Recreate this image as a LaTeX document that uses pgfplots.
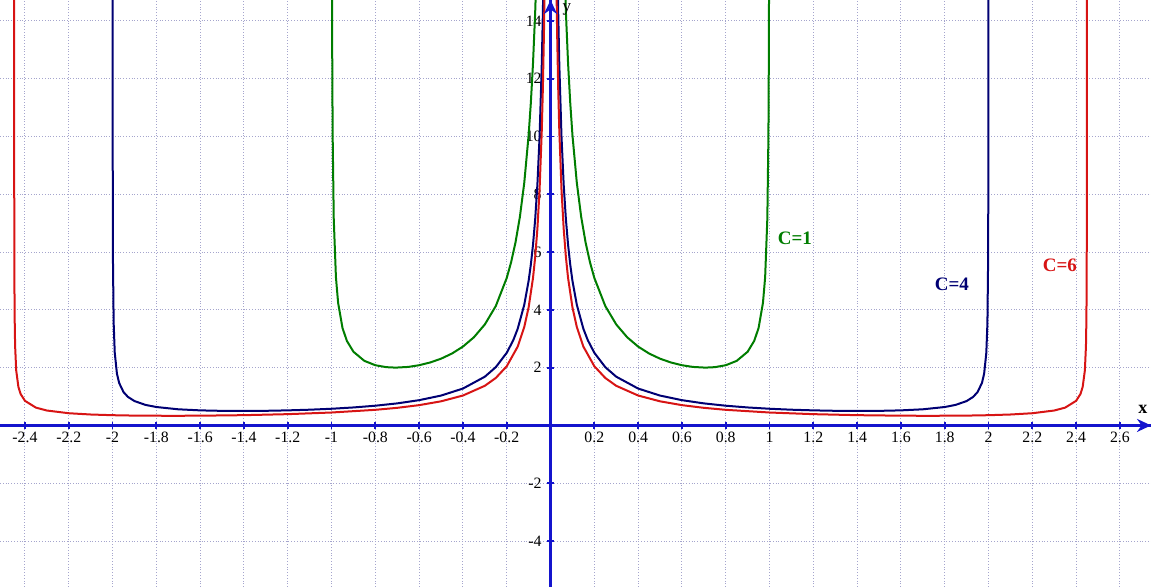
\documentclass[border=0pt]{standalone}
\usepackage{fontspec}
\setmainfont{Liberation Serif}
\usepackage{pgfplots}
\pgfplotsset{compat=1.18}
\usetikzlibrary{arrows.meta}
\definecolor{cgreen}{RGB}{0,125,0}
\definecolor{cnavy}{RGB}{0,0,115}
\definecolor{cred}{RGB}{215,20,20}
\definecolor{axcol}{RGB}{20,20,205}
\definecolor{gridcol}{RGB}{165,165,205}
\begin{document}
\begin{tikzpicture}
\begin{axis}[
  scale only axis, width=575.5pt, height=293.5pt,
  xmin=-2.514, xmax=2.742, ymin=-5.59, ymax=14.72,
  axis lines=middle,
  axis line style={axcol, line width=1.5pt, -},
  xtick={-2.4,-2.2,-2,-1.8,-1.6,-1.4,-1.2,-1,-0.8,-0.6,-0.4,-0.2,0.2,0.4,0.6,0.8,1,1.2,1.4,1.6,1.8,2,2.2,2.4,2.6},
  xticklabels={-2.4,-2.2,-2,-1.8,-1.6,-1.4,-1.2,-1,-0.8,-0.6,-0.4,-0.2,0.2,0.4,0.6,0.8,1,1.2,1.4,1.6,1.8,2,2.2,2.4,2.6},
  ytick={-4,-2,2,4,6,8,10,12,14},
  yticklabels={-4,-2,2,4,6,8,10,12,14},
  tick align=center, major tick length=3.5pt,
  tick style={axcol, line width=0.9pt},
  xticklabel style={font=\fontsize{7.9}{9}\selectfont, anchor=north, inner sep=1.3pt},
  yticklabel style={font=\fontsize{7.9}{9}\selectfont, anchor=east, inner sep=2.5pt},
  grid=major,
  grid style={densely dotted, gridcol, line width=0.5pt},
  clip=true,
]
\coordinate (BL) at (rel axis cs:0,0);
\coordinate (TR) at (rel axis cs:1,1);
% C = 1
\addplot[cgreen, line width=1pt] coordinates {
(-0.998,15.851) (-0.997,12.958) (-0.995,10.063) (-0.99,7.160) (-0.98,5.128) (-0.97,4.241) (-0.95,3.371) (-0.93,2.925) (-0.90,2.549) (-0.85,2.233) (-0.80,2.083) (-0.75,2.016) (-0.7071,2.000) (-0.65,2.024) (-0.60,2.083) (-0.55,2.177) (-0.50,2.309) (-0.45,2.488) (-0.40,2.728) (-0.35,3.050) (-0.30,3.494) (-0.25,4.131) (-0.20,5.103) (-0.18,5.648) (-0.16,6.332) (-0.14,7.214) (-0.12,8.394) (-0.10,10.050) (-0.09,11.156) (-0.08,12.540) (-0.07,14.321) (-0.06,16.697)
};
\addplot[cgreen, line width=1pt] coordinates {
(0.06,16.697) (0.07,14.321) (0.08,12.540) (0.09,11.156) (0.10,10.050) (0.12,8.394) (0.14,7.214) (0.16,6.332) (0.18,5.648) (0.20,5.103) (0.25,4.131) (0.30,3.494) (0.35,3.050) (0.40,2.728) (0.45,2.488) (0.50,2.309) (0.55,2.177) (0.60,2.083) (0.65,2.024) (0.7071,2.000) (0.75,2.016) (0.80,2.083) (0.85,2.233) (0.90,2.549) (0.93,2.925) (0.95,3.371) (0.97,4.241) (0.98,5.128) (0.99,7.160) (0.995,10.063) (0.997,12.958) (0.998,15.851)
};
% C = 4
\addplot[cnavy, line width=1pt] coordinates {
(-1.9998,17.680) (-1.9997,14.437) (-1.9995,11.184) (-1.999,7.911) (-1.998,5.597) (-1.995,3.547) (-1.99,2.516) (-1.98,1.790) (-1.97,1.471) (-1.95,1.154) (-1.93,0.988) (-1.90,0.843) (-1.85,0.711) (-1.80,0.637) (-1.70,0.558) (-1.60,0.521) (-1.50,0.504) (-1.414,0.500) (-1.30,0.506) (-1.20,0.521) (-1.10,0.544) (-1.00,0.577) (-0.90,0.622) (-0.80,0.682) (-0.70,0.763) (-0.60,0.874) (-0.50,1.033) (-0.40,1.276) (-0.30,1.686) (-0.25,2.016) (-0.20,2.513) (-0.17,2.952) (-0.15,3.343) (-0.12,4.174) (-0.10,5.006) (-0.09,5.561) (-0.08,6.255) (-0.07,7.147) (-0.06,8.337) (-0.05,10.003) (-0.04,12.503) (-0.035,14.288) (-0.03,16.668)
};
\addplot[cnavy, line width=1pt] coordinates {
(0.03,16.668) (0.035,14.288) (0.04,12.503) (0.05,10.003) (0.06,8.337) (0.07,7.147) (0.08,6.255) (0.09,5.561) (0.10,5.006) (0.12,4.174) (0.15,3.343) (0.17,2.952) (0.20,2.513) (0.25,2.016) (0.30,1.686) (0.40,1.276) (0.50,1.033) (0.60,0.874) (0.70,0.763) (0.80,0.682) (0.90,0.622) (1.00,0.577) (1.10,0.544) (1.20,0.521) (1.30,0.506) (1.414,0.500) (1.50,0.504) (1.60,0.521) (1.70,0.558) (1.80,0.637) (1.85,0.711) (1.90,0.843) (1.93,0.988) (1.95,1.154) (1.97,1.471) (1.98,1.790) (1.99,2.516) (1.995,3.547) (1.998,5.597) (1.999,7.911) (1.9995,11.184) (1.9997,14.437) (1.9998,17.680)
};
% C = 6
\addplot[cred, line width=1pt] coordinates {
(-2.4494,19.47) (-2.4493,13.392) (-2.4492,10.837) (-2.4491,9.345) (-2.449,8.337) (-2.4488,7.026) (-2.4485,5.866) (-2.448,4.782) (-2.447,3.701) (-2.445,2.759) (-2.44,1.903) (-2.43,1.334) (-2.42,1.090) (-2.40,0.851) (-2.35,0.616) (-2.30,0.516) (-2.20,0.422) (-2.10,0.378) (-2.00,0.354) (-1.90,0.340) (-1.732,0.333) (-1.60,0.337) (-1.40,0.355) (-1.20,0.390) (-1.00,0.447) (-0.80,0.540) (-0.70,0.609) (-0.60,0.702) (-0.50,0.834) (-0.40,1.035) (-0.30,1.371) (-0.25,1.642) (-0.20,2.048) (-0.15,2.727) (-0.12,3.406) (-0.10,4.086) (-0.08,5.106) (-0.07,5.834) (-0.06,6.806) (-0.05,8.167) (-0.04,10.208) (-0.035,11.665) (-0.03,13.609) (-0.025,16.331)
};
\addplot[cred, line width=1pt] coordinates {
(0.025,16.331) (0.03,13.609) (0.035,11.665) (0.04,10.208) (0.05,8.167) (0.06,6.806) (0.07,5.834) (0.08,5.106) (0.10,4.086) (0.12,3.406) (0.15,2.727) (0.20,2.048) (0.25,1.642) (0.30,1.371) (0.40,1.035) (0.50,0.834) (0.60,0.702) (0.70,0.609) (0.80,0.540) (1.00,0.447) (1.20,0.390) (1.40,0.355) (1.60,0.337) (1.732,0.333) (1.90,0.340) (2.00,0.354) (2.10,0.378) (2.20,0.422) (2.30,0.516) (2.35,0.616) (2.40,0.851) (2.42,1.090) (2.43,1.334) (2.44,1.903) (2.445,2.759) (2.447,3.701) (2.448,4.782) (2.4485,5.866) (2.4488,7.026) (2.449,8.337) (2.4491,9.345) (2.4492,10.837) (2.4493,13.392) (2.4494,19.47)
};
\draw[axcol, line width=1.5pt, -{Stealth[length=7pt,width=6.5pt]}] (axis cs:-2.514,0) -- (axis cs:2.742,0);
\draw[axcol, line width=1.5pt, -{Stealth[length=7pt,width=6.5pt]}] (axis cs:0,-5.59) -- (axis cs:0,14.72);
\node[text=cgreen, font=\bfseries\fontsize{9.5}{11}\selectfont] at (axis cs:1.116,6.49) {C=1};
\node[text=cnavy, font=\bfseries\fontsize{9.5}{11}\selectfont] at (axis cs:1.833,4.90) {C=4};
\node[text=cred, font=\bfseries\fontsize{9.5}{11}\selectfont] at (axis cs:2.326,5.55) {C=6};
\node[font=\bfseries\fontsize{9}{10}\selectfont] at (axis cs:2.705,0.54) {x};
\node[font=\fontsize{8.5}{9}\selectfont] at (axis cs:0.075,14.38) {y};
\end{axis}
\pgfresetboundingbox
\path (BL) rectangle (TR);
\end{tikzpicture}
\end{document}
